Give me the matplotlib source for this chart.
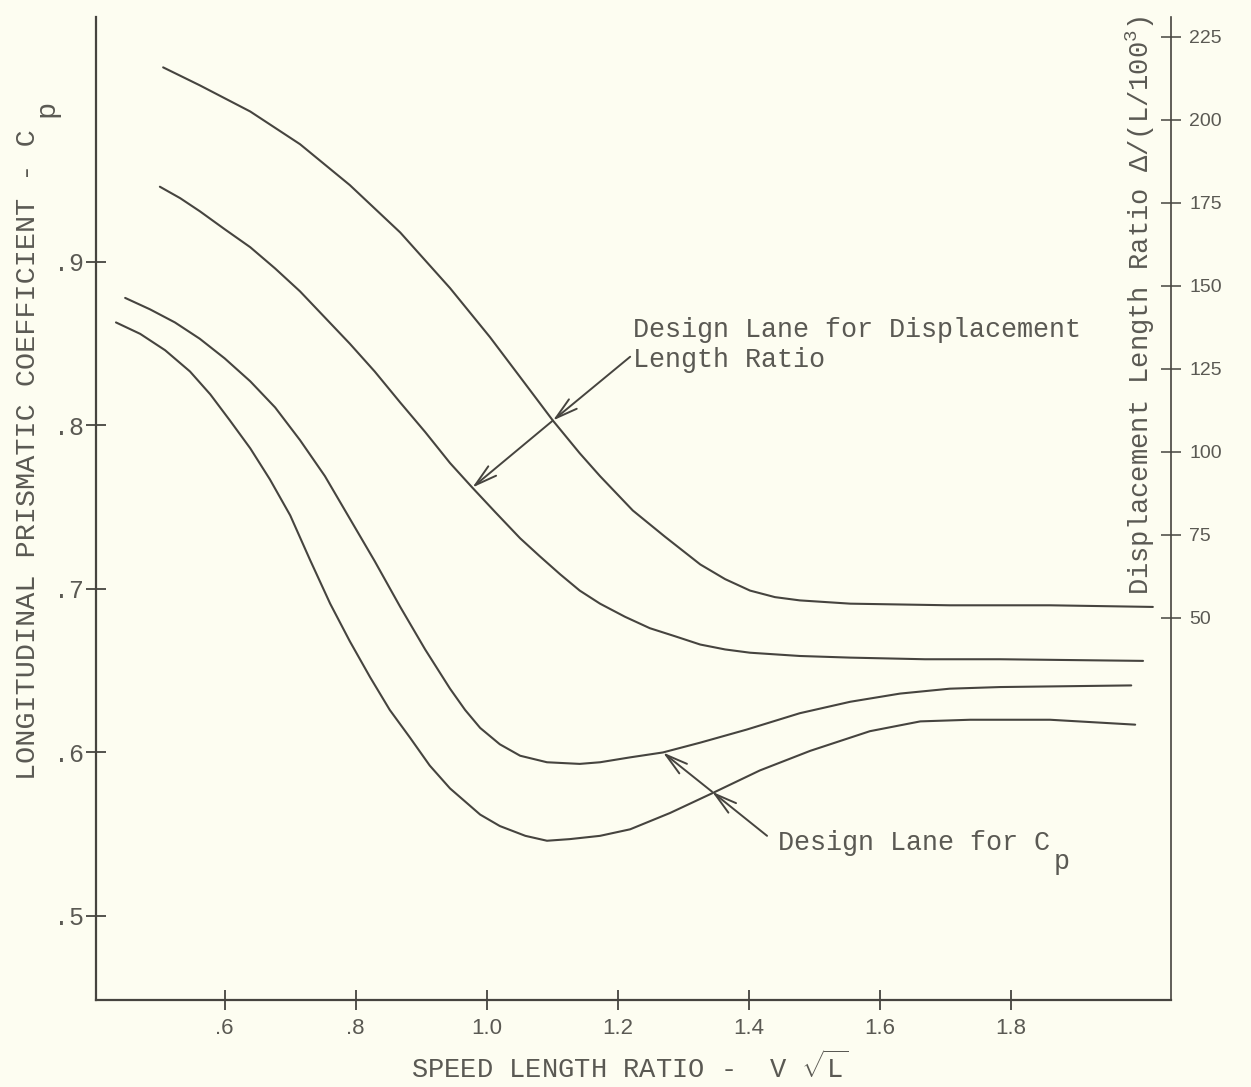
import matplotlib
matplotlib.use("Agg")
import matplotlib.pyplot as plt

# ---------------- data ----------------
x_ticks = [0.6, 0.8, 1.0, 1.2, 1.4, 1.6, 1.8]
x_tick_labels = [".6", ".8", "1.0", "1.2", "1.4", "1.6", "1.8"]
y_ticks = [0.5, 0.6, 0.7, 0.8, 0.9]
y_tick_labels = [".5", ".6", ".7", ".8", ".9"]
dlr_ticks = [50, 75, 100, 125, 150, 175, 200, 225]
dlr_tick_labels = ["50", "75", "100", "125", "150", "175", "200", "225"]

# upper boundary of the displacement-length-ratio lane
curve_a_x = [0.506, 0.562, 0.639, 0.715, 0.791, 0.868, 0.944, 1.005, 1.054, 1.101,
             1.142, 1.173, 1.223, 1.272, 1.326, 1.364, 1.402, 1.440, 1.478, 1.555,
             1.707, 1.860, 2.017]
curve_a_y = [1.019, 1.008, 0.992, 0.972, 0.947, 0.918, 0.884, 0.854, 0.828, 0.803,
             0.783, 0.769, 0.748, 0.732, 0.715, 0.706, 0.699, 0.695, 0.693, 0.691,
             0.690, 0.690, 0.689]
# lower boundary of the displacement-length-ratio lane
curve_b_x = [0.501, 0.532, 0.562, 0.600, 0.639, 0.677, 0.715, 0.753, 0.791, 0.829,
             0.868, 0.906, 0.944, 0.978, 1.013, 1.051, 1.081, 1.112, 1.142, 1.173,
             1.211, 1.249, 1.288, 1.326, 1.364, 1.402, 1.478, 1.555, 1.669, 1.784,
             2.002]
curve_b_y = [0.946, 0.939, 0.931, 0.920, 0.909, 0.896, 0.882, 0.866, 0.850, 0.833,
             0.814, 0.796, 0.777, 0.762, 0.747, 0.731, 0.720, 0.709, 0.699, 0.691,
             0.683, 0.676, 0.671, 0.666, 0.663, 0.661, 0.659, 0.658, 0.657, 0.657,
             0.656]
# upper boundary of the Cp lane
curve_c_x = [0.448, 0.486, 0.524, 0.562, 0.600, 0.639, 0.677, 0.715, 0.753, 0.791,
             0.829, 0.868, 0.906, 0.944, 0.967, 0.990, 1.020, 1.051, 1.092, 1.142,
             1.173, 1.219, 1.269, 1.326, 1.397, 1.478, 1.555, 1.631, 1.707, 1.784,
             1.984]
curve_c_y = [0.878, 0.871, 0.863, 0.853, 0.841, 0.827, 0.811, 0.791, 0.769, 0.743,
             0.717, 0.689, 0.663, 0.639, 0.626, 0.615, 0.605, 0.598, 0.594, 0.593,
             0.594, 0.597, 0.600, 0.606, 0.614, 0.624, 0.631, 0.636, 0.639, 0.640,
             0.641]
# lower boundary of the Cp lane
curve_d_x = [0.434, 0.471, 0.509, 0.547, 0.578, 0.608, 0.639, 0.669, 0.700, 0.730,
             0.761, 0.791, 0.822, 0.852, 0.883, 0.913, 0.944, 0.967, 0.990, 1.020,
             1.059, 1.092, 1.127, 1.173, 1.219, 1.280, 1.344, 1.417, 1.494, 1.585,
             1.662, 1.738, 1.860, 1.990]
curve_d_y = [0.863, 0.856, 0.846, 0.833, 0.819, 0.803, 0.786, 0.767, 0.745, 0.718,
             0.691, 0.668, 0.646, 0.626, 0.609, 0.592, 0.578, 0.570, 0.562, 0.555,
             0.549, 0.546, 0.547, 0.549, 0.553, 0.563, 0.575, 0.589, 0.601, 0.613,
             0.619, 0.620, 0.620, 0.617]

# lane indicator lines: start near the text, then the two curve crossings
lane_dlr_pts = [(1.219, 0.842), (1.101, 0.803), (0.978, 0.762)]
lane_cp_pts = [(1.428, 0.549), (1.344, 0.576), (1.269, 0.600)]

# ---------------- style ----------------
BG = "#fdfdf1"
INK = "#46443f"
TXT = "#5a5953"
MONO = "Liberation Mono"
plt.rcParams["mathtext.fontset"] = "custom"
plt.rcParams["mathtext.rm"] = MONO
plt.rcParams["mathtext.it"] = MONO

W, H = 1251, 1087
fig = plt.figure(figsize=(W / 100, H / 100), dpi=100, facecolor=BG)

ax_l, ax_r, ax_b, ax_t = 96, 1171, 1000, 17
ax = fig.add_axes([ax_l / W, 1 - ax_b / H, (ax_r - ax_l) / W, (ax_b - ax_t) / H])
ax.set_facecolor(BG)

ax.set_xlim(0.4035, 2.0447)
ax.set_ylim(0.4486, 1.0498)

lw = 1.5
for xs, ys in [(curve_a_x, curve_a_y), (curve_b_x, curve_b_y),
               (curve_c_x, curve_c_y), (curve_d_x, curve_d_y)]:
    ax.plot(xs, ys, color=INK, lw=lw, solid_capstyle="round",
            solid_joinstyle="round")

# spines
for s in ["top", "right"]:
    ax.spines[s].set_visible(False)
for s in ["left", "bottom"]:
    ax.spines[s].set_color(INK)
    ax.spines[s].set_linewidth(1.6)

ax.set_xticks(x_ticks)
ax.set_xticklabels(x_tick_labels, fontfamily="Liberation Sans", fontsize=16, color=TXT)
ax.set_yticks(y_ticks)
ax.set_yticklabels(y_tick_labels, fontfamily=MONO, fontsize=18, color=TXT)
ax.tick_params(axis="x", direction="inout", length=14, width=1.3, color=INK, pad=6)
ax.tick_params(axis="y", direction="inout", length=14, width=1.3, color=INK, pad=2)

# right-hand axis: displacement length ratio
cp50 = 0.6823
k = 0.0020306
ax2 = ax.twinx()
lo, hi = ax.get_ylim()
ax2.set_ylim(50 + (lo - cp50) / k, 50 + (hi - cp50) / k)
ax2.set_yticks(dlr_ticks)
ax2.set_yticklabels(dlr_tick_labels, fontfamily="Liberation Sans", fontsize=14, color=TXT)
ax2.tick_params(axis="y", direction="inout", length=14, width=1.1, color=INK, pad=6)
for s in ["top", "left", "bottom"]:
    ax2.spines[s].set_visible(False)
ax2.spines["right"].set_color(INK)
ax2.spines["right"].set_linewidth(1.2)

# lane indicators
aprops = dict(arrowstyle="->,head_length=0.8,head_width=0.22", color=INK,
              lw=1.4, shrinkA=0, shrinkB=0, mutation_scale=20)
for pts in (lane_dlr_pts, lane_cp_pts):
    for p0, p1 in zip(pts[:-1], pts[1:]):
        ax.annotate("", xy=p1, xytext=p0, arrowprops=aprops)

fs = 19.3
ax.text(1.2234, 0.8584, "Design Lane for Displacement", fontfamily=MONO,
        fontsize=fs, color=TXT, ha="left", va="center")
ax.text(1.2234, 0.8400, "Length Ratio", fontfamily=MONO,
        fontsize=fs, color=TXT, ha="left", va="center")
ax.text(1.445, 0.5447, "Design Lane for C", fontfamily=MONO,
        fontsize=fs, color=TXT, ha="left", va="center")
ax.text(1.866, 0.5330, "p", fontfamily=MONO,
        fontsize=fs, color=TXT, ha="left", va="center")

# axis titles
fig.text(28 / W, 1 - 455 / H, "LONGITUDINAL PRISMATIC COEFFICIENT - C",
         rotation=90, fontfamily=MONO, fontsize=20.5, color=TXT,
         ha="center", va="center")
fig.text(46 / W, 1 - 108 / H, "p", rotation=90, fontfamily=MONO,
         fontsize=20.5, color=TXT, ha="center", va="center")
fig.text(630 / W, 1 - 1068 / H, r"SPEED LENGTH RATIO -  V $\sqrt{\mathrm{L}}$",
         fontfamily=MONO, fontsize=19.5, color=TXT, ha="center", va="center")
fig.text(1140 / W, 1 - 305 / H, r"Displacement Length Ratio $\Delta$/(L/100$^{3}$)",
         rotation=90, fontfamily=MONO, fontsize=19.5, color=TXT,
         ha="center", va="center")

fig.savefig("out.png", dpi=100, facecolor=BG)
